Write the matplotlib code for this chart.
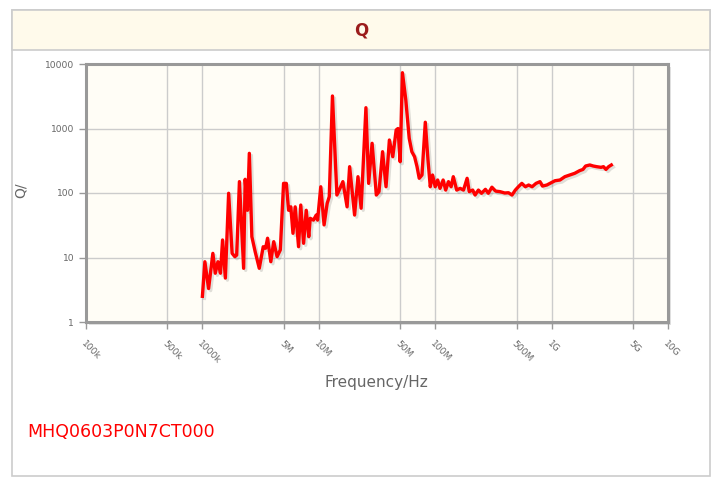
import matplotlib
matplotlib.use('Agg')
import matplotlib.pyplot as plt
import matplotlib.patheffects as pe
from matplotlib.patches import Rectangle
import numpy as np

# frequency in MHz and Q
freq_mhz = [
    1.00, 1.05, 1.13, 1.23, 1.29, 1.36, 1.43, 1.49, 1.575, 1.68,
    1.80, 1.90, 1.97, 2.08, 2.26, 2.33, 2.44, 2.53, 2.66, 2.84,
    3.08, 3.33, 3.49, 3.63, 3.87, 4.10, 4.38, 4.67, 4.98, 5.26,
    5.50, 5.75, 6.00, 6.27, 6.70, 7.00, 7.40, 7.80, 8.20, 8.44,
    9.00, 9.50, 9.76, 10.4, 11.1, 11.8, 12.3, 13.1, 14.3, 15.2,
    16.1, 17.5, 18.4, 20.3, 21.7, 23.1, 25.4, 26.8, 28.7, 31.2,
    32.9, 35.3, 37.8, 40.4, 43.2, 46.2, 47.9, 50.0, 52.3, 55.9,
    59.8, 63.0, 66.5, 69.8, 72.9, 77.0, 82.2, 86.7, 90.7, 94.9,
    100, 105, 110, 117, 123, 130, 137, 143, 153, 164,
    175, 188, 196, 210, 220, 235, 250, 270, 286, 307,
    330, 360, 396, 426, 457, 488, 525, 555, 595, 635,
    680, 735, 795, 835, 910, 990, 1070, 1180, 1300, 1430,
    1580, 1740, 1860, 1960, 2130, 2280, 2440, 2660, 2790, 2930,
    3090, 3260,
]
q_values = [
    2.5, 8.6, 3.3, 11.6, 5.7, 8.6, 5.7, 18.7, 4.8, 99,
    11.6, 10.3, 10.9, 150, 6.8, 163, 54, 412, 21, 12.3,
    6.8, 14.7, 13.9, 19.9, 8.6, 17.6, 10.3, 13.1, 141, 141,
    54, 61, 23.7, 61, 14.7, 65, 16.6, 54, 21, 40.5,
    38, 45.5, 38, 125, 32, 69, 88, 3190, 93, 118,
    150, 61, 256, 45.5, 179, 58, 2100, 141, 590, 93,
    105, 437, 125, 663, 365, 948, 1000, 306, 7330, 2770,
    705, 437, 365, 256, 169, 190, 1250, 325, 125, 190,
    125, 159, 118, 159, 111, 150, 125, 179, 111, 118,
    111, 169, 105, 111, 93, 111, 99, 114, 99, 123,
    107, 105, 100, 101, 93, 111, 128, 141, 125, 133,
    125, 141, 150, 128, 133, 144, 155, 159, 179, 190,
    202, 222, 232, 262, 272, 262, 256, 250, 256, 232,
    256, 272,
]

x_ticks = [1e5, 5e5, 1e6, 5e6, 1e7, 5e7, 1e8, 5e8, 1e9, 5e9, 1e10]
x_labels = ['100k', '500k', '1000k', '5M', '10M', '50M', '100M', '500M', '1G', '5G', '10G']
y_ticks = [1, 10, 100, 1000, 10000]
y_labels = ['1', '10', '100', '1000', '10000']

W, H = 715, 478
fig = plt.figure(figsize=(W / 100, H / 100), dpi=100)

def fx(px):
    return px / W

def fy(py):
    return 1 - py / H

# outer box and title band
fig.add_artist(Rectangle((fx(12), fy(476)), fx(698), 466 / H, transform=fig.transFigure,
                         facecolor='white', edgecolor='#cccccc', lw=1.2, zorder=0))
fig.add_artist(Rectangle((fx(12), fy(50)), fx(698), 40 / H, transform=fig.transFigure,
                         facecolor='#fffaeb', edgecolor='#cccccc', lw=1.2, zorder=0))
fig.text(fx(361), fy(30), 'Q', ha='center', va='center', fontsize=12,
         fontweight='bold', color='#9b1c1c')

left, right, top, bottom = 86, 668, 64, 322
ax = fig.add_axes([fx(left), fy(bottom), fx(right - left), (bottom - top) / H])

# soft frame shadow
fig.add_artist(Rectangle((fx(left + 3), fy(bottom + 3)), fx(right - left), (bottom - top) / H,
                         transform=fig.transFigure, facecolor='#e2e2e2', edgecolor='none',
                         zorder=0.5))
ax.set_zorder(1)
ax.set_facecolor('#fffdf6')

ax.plot(np.array(freq_mhz) * 1e6, q_values, color='#ff0000', lw=2.4, solid_joinstyle='round',
        path_effects=[pe.SimpleLineShadow(offset=(1.5, -1.5), shadow_color='k', alpha=0.12),
                      pe.Normal()])

ax.set_xscale('log')
ax.set_yscale('log')
ax.set_xlim(1e5, 1e10)
ax.set_ylim(1, 10000)
ax.minorticks_off()
ax.set_xticks(x_ticks)
ax.set_xticklabels(x_labels, rotation=-45, ha='left', va='top', rotation_mode='anchor')
ax.set_yticks(y_ticks)
ax.set_yticklabels(y_labels)
ax.tick_params(axis='both', colors='#999999', labelcolor='#666666', labelsize=6.6,
               length=5, width=1)
ax.tick_params(axis='x', pad=7)
ax.grid(True, color='#cccccc', lw=1)
ax.set_axisbelow(True)
for s in ax.spines.values():
    s.set_color('#999999')
    s.set_linewidth(2.2)

fig.text(fx(376), fy(382), 'Frequency/Hz', ha='center', va='center', fontsize=11, color='#666666')
fig.text(fx(21), fy(190), 'Q/', ha='center', va='center', rotation=90, fontsize=10, color='#666666')
fig.text(fx(27), fy(432), 'MHQ0603P0N7CT000', ha='left', va='center', fontsize=12.5, color='#ff0000')

fig.savefig('out.png', dpi=100)
